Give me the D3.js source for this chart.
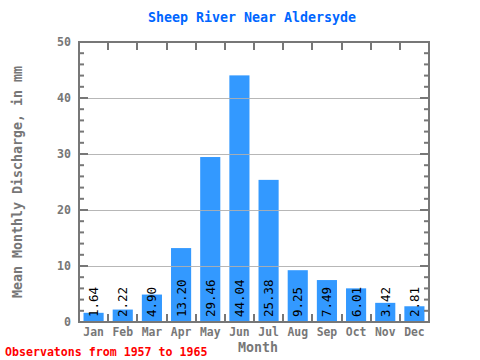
<!DOCTYPE html>
<html><head><meta charset="utf-8">
<script src="https://cdn.jsdelivr.net/npm/d3@7"></script>
<style>body{margin:0;background:#fff}svg{display:block}</style>
</head><body>
<svg id="c" width="480" height="360"></svg>
<script>
const months = ["Jan","Feb","Mar","Apr","May","Jun","Jul","Aug","Sep","Oct","Nov","Dec"];
const values = [1.64,2.22,4.90,13.20,29.46,44.04,25.38,9.25,7.49,6.01,3.42,2.81];
const yTicks = [0,10,20,30,40,50];
const title = "Sheep River Near Aldersyde";
const yLabel = "Mean Monthly Discharge, in mm";
const xLabel = "Month";
const footer = "Observatons from 1957 to 1965";

const svg = d3.select("#c");
const L = 79, R = 429, T = 42, B = 322;
const font = "'DejaVu Sans Mono', monospace";
const axisCol = "#777";

const x = d3.scaleBand().domain(months).range([L, R]).paddingInner(0.31).paddingOuter(0.155);
const y = d3.scaleLinear().domain([0, 50]).range([B, T]);
const slot = (R - L) / months.length;

// bars
svg.append("g").selectAll("rect").data(values).join("rect")
  .attr("x", (d,i) => x(months[i])).attr("width", x.bandwidth())
  .attr("y", d => y(d)).attr("height", d => B - y(d))
  .attr("fill", "#3399ff");

// gridlines
svg.append("g").selectAll("line").data(yTicks.filter(t => t > 0 && t < 50)).join("line")
  .attr("x1", L + 9).attr("x2", R).attr("y1", d => y(d) + 0.5).attr("y2", d => y(d) + 0.5)
  .attr("stroke", "#b0b0b0").attr("stroke-width", 1).attr("opacity", 0.9);

// minor y ticks
const minor = d3.range(0, 51, 2);
const tg = svg.append("g").attr("stroke", axisCol).attr("stroke-width", 2);
minor.forEach(v => {
  const major = v % 10 === 0;
  tg.append("line").attr("x1", L).attr("x2", L + (major ? 9 : 5)).attr("y1", y(v)).attr("y2", y(v));
  tg.append("line").attr("x1", R).attr("x2", R - (major ? 9 : 5)).attr("y1", y(v)).attr("y2", y(v));
});
// x ticks at slot boundaries
for (let k = 1; k < months.length; k++) {
  const xx = Math.round(L + slot * k);
  tg.append("line").attr("x1", xx).attr("x2", xx).attr("y1", T).attr("y2", T + 8);
  tg.append("line").attr("x1", xx).attr("x2", xx).attr("y1", B).attr("y2", B - 8);
}
// frame
svg.append("rect").attr("x", L).attr("y", T).attr("width", R - L).attr("height", B - T)
  .attr("fill", "none").attr("stroke", axisCol).attr("stroke-width", 2);

// y tick labels
svg.append("g").selectAll("text").data(yTicks).join("text")
  .attr("x", 71).attr("y", d => y(d) + 4).attr("text-anchor", "end")
  .attr("font-family", font).attr("font-weight", "bold").attr("font-size", 11.6)
  .attr("fill", axisCol).text(d => d);

// x tick labels
svg.append("g").selectAll("text").data(months).join("text")
  .attr("x", d => x(d) + x.bandwidth() / 2).attr("y", 336).attr("text-anchor", "middle")
  .attr("font-family", font).attr("font-weight", "bold").attr("font-size", 11.4)
  .attr("fill", axisCol).text(d => d);

// value labels
svg.append("g").selectAll("text").data(values).join("text")
  .attr("transform", (d,i) => `translate(${x(months[i]) + x.bandwidth()/2 + 4.5},${B - 5}) rotate(-90)`)
  .attr("text-anchor", "start")
  .attr("font-family", font).attr("font-size", 12.5).attr("fill", "#000")
  .text(d => d.toFixed(2));

// title
svg.append("text").attr("x", 252).attr("y", 22).attr("text-anchor", "middle")
  .attr("font-family", font).attr("font-weight", "bold").attr("font-size", 13.3)
  .attr("fill", "#0066ff").text(title);

// y label
svg.append("text").attr("transform", `translate(22,${182}) rotate(-90)`).attr("text-anchor", "middle")
  .attr("font-family", font).attr("font-weight", "bold").attr("font-size", 13.3)
  .attr("fill", axisCol).text(yLabel);

// x label
svg.append("text").attr("x", 258).attr("y", 352).attr("text-anchor", "middle")
  .attr("font-family", font).attr("font-weight", "bold").attr("font-size", 13.3)
  .attr("fill", axisCol).text(xLabel);

// footer
svg.append("text").attr("x", 5).attr("y", 356)
  .attr("font-family", font).attr("font-weight", "bold").attr("font-size", 11.6)
  .attr("fill", "#ff0000").text(footer);
</script>
</body></html>
